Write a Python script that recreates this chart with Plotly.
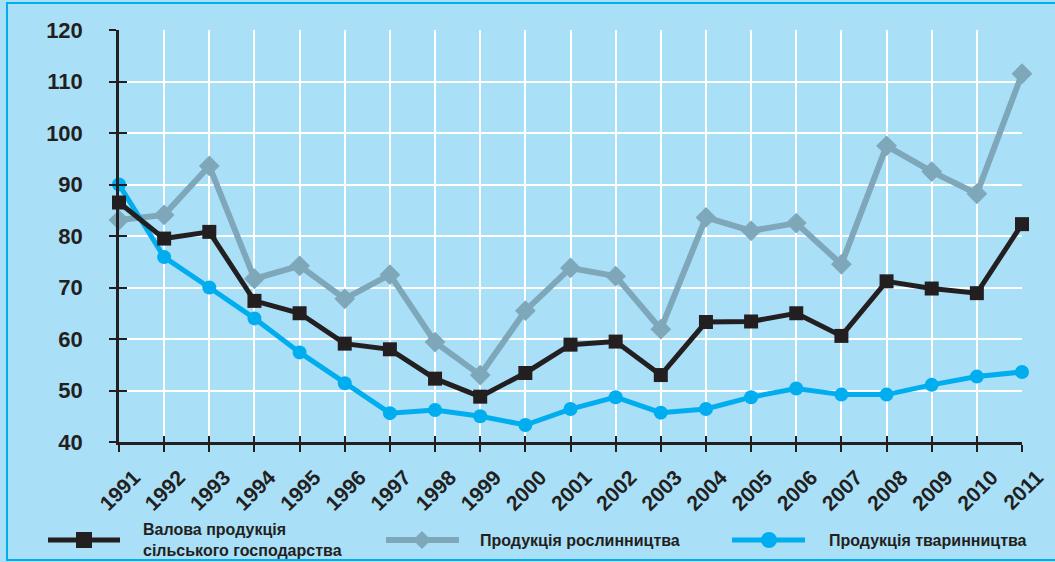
import plotly.graph_objects as go

years = list(range(1991, 2012))
year_labels = [str(y) for y in years]

gross = [86.5, 79.5, 80.8, 67.4, 65.0, 59.1, 58.0, 52.3, 48.8, 53.4, 58.9, 59.5, 53.0,
         63.3, 63.4, 65.0, 60.6, 71.2, 69.8, 68.9, 82.3]
crop = [83.1, 84.1, 93.6, 71.7, 74.2, 67.8, 72.5, 59.4, 53.0, 65.5, 73.8, 72.2, 61.9,
        83.6, 81.0, 82.5, 74.5, 97.5, 92.5, 88.2, 111.5]
livestock = [90.0, 75.9, 70.0, 64.0, 57.4, 51.4, 45.6, 46.2, 45.0, 43.3, 46.4, 48.7, 45.7,
             46.4, 48.7, 50.4, 49.2, 49.2, 51.1, 52.7, 53.6]

names = ["Валова продукція<br>сільського господарства",
         "Продукція рослинництва",
         "Продукція тваринництва"]
y_ticks = [40, 50, 60, 70, 80, 90, 100, 110, 120]

BLACK = "#231F20"
GRAY = "#7FA7BA"
BLUE = "#00AEEF"
BG = "#AADFF8"
FONT = "Liberation Sans"

W, H = 1055, 562
L, R, T, B = 119, 33, 30, 120
PW, PH = W - L - R, H - T - B


def px(x):
    return (x - L) / PW


def py(y):
    return (H - B - y) / PH


fig = go.Figure()
fig.add_trace(go.Scatter(x=years, y=crop, mode="lines+markers", name=names[1],
                         line=dict(color=GRAY, width=6),
                         marker=dict(symbol="diamond", size=16, color=GRAY),
                         cliponaxis=False, showlegend=False))
fig.add_trace(go.Scatter(x=years, y=livestock, mode="lines+markers", name=names[2],
                         line=dict(color=BLUE, width=5),
                         marker=dict(symbol="circle", size=14, color=BLUE),
                         cliponaxis=False, showlegend=False))
fig.add_trace(go.Scatter(x=years, y=gross, mode="lines+markers", name=names[0],
                         line=dict(color=BLACK, width=5),
                         marker=dict(symbol="square", size=14, color=BLACK),
                         cliponaxis=False, showlegend=False))
# invisible trace to anchor the overlay axes (for crossing tick marks)
fig.add_trace(go.Scatter(x=[years[0]], y=[y_ticks[0]], xaxis="x2", yaxis="y2",
                         mode="markers", marker=dict(opacity=0), showlegend=False,
                         hoverinfo="skip"))

fig.update_layout(
    width=W, height=H,
    margin=dict(l=L, r=R, t=T, b=B, autoexpand=False),
    paper_bgcolor=BG, plot_bgcolor=BG,
    font=dict(family=FONT, color=BLACK),
    xaxis=dict(range=[years[0], years[-1]], tickmode="array", tickvals=years,
               ticktext=year_labels, tickangle=-45,
               tickfont=dict(size=21, weight="bold", color=BLACK),
               showgrid=True, gridcolor="white", gridwidth=2,
               showline=True, linecolor=BLACK, linewidth=2.5,
               ticks="outside", ticklen=7, tickwidth=2, tickcolor=BLACK,
               zeroline=False, ticklabelstandoff=5, ticklabelshift=15),
    yaxis=dict(range=[y_ticks[0], y_ticks[-1]], tickmode="array", tickvals=y_ticks,
               tickfont=dict(size=22, weight="bold", color=BLACK),
               showgrid=True, gridcolor="white", gridwidth=2,
               showline=True, linecolor=BLACK, linewidth=2.5,
               ticks="outside", ticklen=7, tickwidth=2, tickcolor=BLACK,
               zeroline=False, ticklabelstandoff=22),
    xaxis2=dict(range=[years[0], years[-1]], overlaying="x", anchor="y2",
                tickmode="array", tickvals=years, showticklabels=False,
                ticks="inside", ticklen=6, tickwidth=2, tickcolor=BLACK,
                showgrid=False, zeroline=False, showline=False),
    yaxis2=dict(range=[y_ticks[0], y_ticks[-1]], overlaying="y", anchor="x2",
                tickmode="array", tickvals=y_ticks, showticklabels=False,
                ticks="inside", ticklen=8, tickwidth=2, tickcolor=BLACK,
                showgrid=False, zeroline=False, showline=False),
)

# frame
fig.add_shape(type="rect", xref="paper", yref="paper",
              x0=px(7), x1=px(1070), y0=py(560), y1=py(3),
              line=dict(color=BLUE, width=2), fillcolor="rgba(0,0,0,0)", layer="below")

# manual legend
leg_y = 540
items = [
    (48, 120, 84, BLACK, 5, "square", 16, 141, names[0]),
    (386, 459, 422, GRAY, 6, "diamond", 18, 478, names[1]),
    (732, 805, 769, BLUE, 5, "circle", 16, 827, names[2]),
]
for x0, x1, xm, col, lw, sym, ms, xt, txt in items:
    fig.add_shape(type="line", xref="paper", yref="paper",
                  x0=px(x0), x1=px(x1), y0=py(leg_y), y1=py(leg_y),
                  line=dict(color=col, width=lw))
    h = ms / 2
    if sym == "square":
        fig.add_shape(type="rect", xref="paper", yref="paper",
                      x0=px(xm - h), x1=px(xm + h), y0=py(leg_y + h), y1=py(leg_y - h),
                      fillcolor=col, line=dict(width=0))
    elif sym == "circle":
        fig.add_shape(type="circle", xref="paper", yref="paper",
                      x0=px(xm - h), x1=px(xm + h), y0=py(leg_y + h), y1=py(leg_y - h),
                      fillcolor=col, line=dict(width=0))
    else:
        path = "M {} {} L {} {} L {} {} L {} {} Z".format(
            px(xm - h), py(leg_y), px(xm), py(leg_y - h),
            px(xm + h), py(leg_y), px(xm), py(leg_y + h))
        fig.add_shape(type="path", xref="paper", yref="paper", path=path,
                      fillcolor=col, line=dict(width=0))
    fig.add_annotation(xref="paper", yref="paper", x=px(xt), y=py(leg_y),
                       xanchor="left", yanchor="middle", align="left",
                       text="<b>" + txt + "</b>", showarrow=False,
                       font=dict(size=16, color=BLACK, family=FONT))

fig.write_html("out.html", config={"displayModeBar": False},
               post_script="document.body.style.margin='0';document.body.style.background='" + BG + "';")
